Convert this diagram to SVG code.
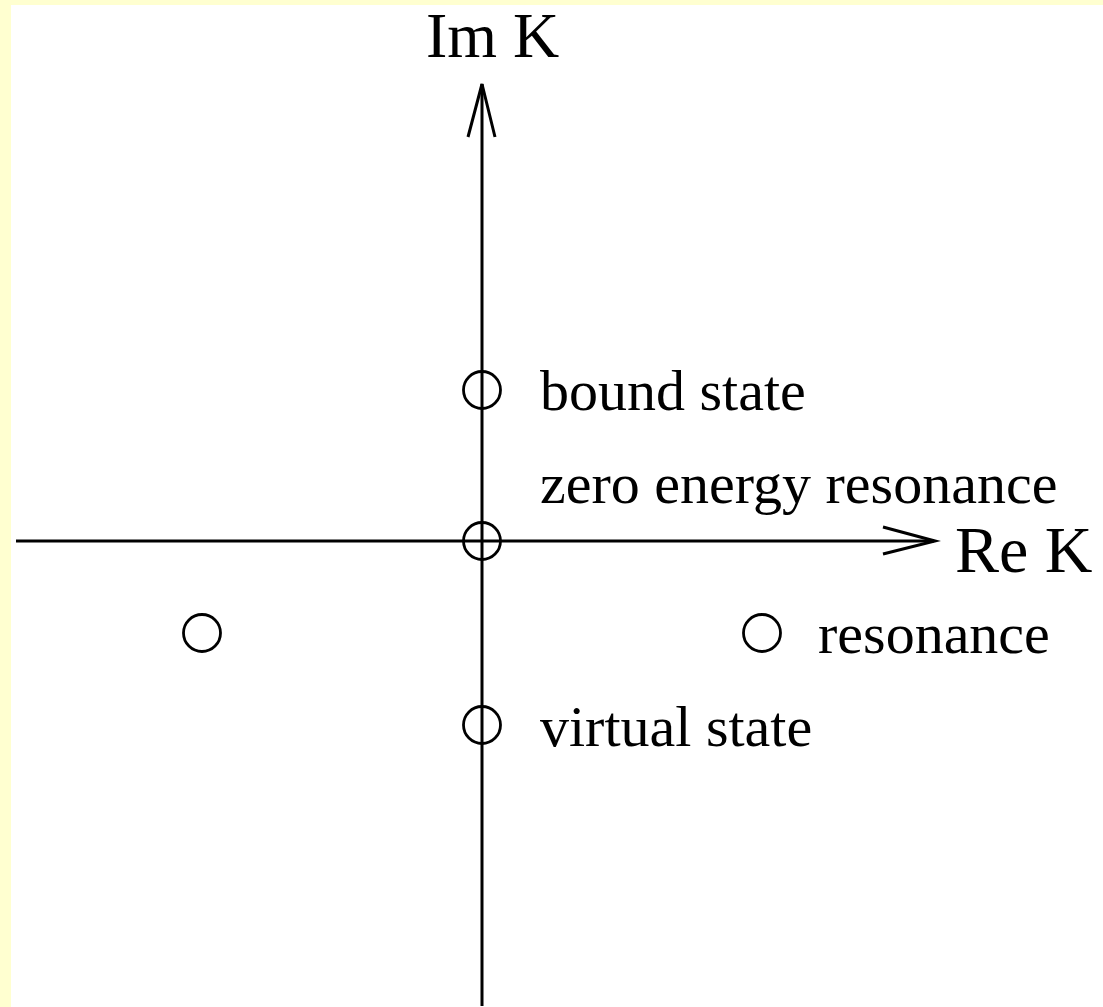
<svg xmlns="http://www.w3.org/2000/svg" width="1103" height="1007" viewBox="0 0 1103 1007">
<style>
.ax{stroke:#000;stroke-width:3;fill:none}
.pole{stroke:#000;stroke-width:2.8;fill:none}
.t{font-family:"Liberation Serif","Times New Roman",serif;fill:#000}
.lbl{font-size:58px}
.axl{font-size:64px}
</style>
<rect x="0" y="0" width="1103" height="1007" fill="#fff"/>
<rect x="0" y="0" width="1103" height="5" fill="#ffffd0"/>
<rect x="0" y="0" width="11" height="1007" fill="#ffffd0"/>
<g id="connectors">
<path class="ax" d="M482,1006 V84"/>
<path class="ax" d="M468,137 L482,84 L495,137"/>
<path class="ax" d="M16,541 H934"/>
<path class="ax" d="M883,527 L935,541 L883,554"/>
</g>
<g id="pole-bound"><circle class="pole" cx="482" cy="390" r="18.5"/><text class="t lbl" x="540" y="410">bound state</text></g>
<g id="pole-zero"><circle class="pole" cx="482" cy="541" r="18.5"/><text class="t lbl" x="540" y="503">zero energy resonance</text></g>
<g id="pole-left"><circle class="pole" cx="202" cy="633" r="18.5"/></g>
<g id="pole-res"><circle class="pole" cx="762" cy="633" r="18.5"/><text class="t lbl" x="818" y="653">resonance</text></g>
<g id="pole-virtual"><circle class="pole" cx="482" cy="725" r="18.5"/><text class="t lbl" x="540" y="746">virtual state</text></g>
<text id="imk" class="t axl" x="426" y="57">Im K</text>
<text id="rek" class="t axl" x="955" y="572" style="font-size:66px">Re K</text>
</svg>
